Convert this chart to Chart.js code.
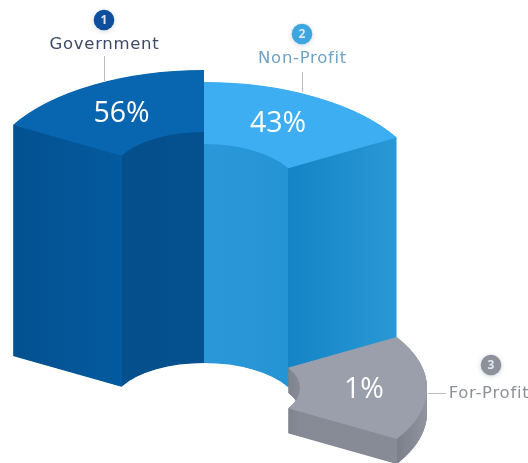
<!DOCTYPE html>
<html>
<head>
<meta charset="utf-8">
<style>html,body{margin:0;padding:0;background:#fff}canvas{display:block}</style>
<script src="https://cdn.jsdelivr.net/npm/chart.js@4"></script>
</head>
<body>
<canvas id="c" width="528" height="463"></canvas>
<script>
const categories = ["Government", "Non-Profit", "For-Profit"];
const shares = [56, 43, 1];
const badgeNumbers = ["1", "2", "3"];

const topColors = ["#0865b0", "#3eaef2", "#9b9fab"];

// The reference is an illustration: its wedges are not proportional to the shares,
// so each arc element is given the illustrated wedge geometry.
const deg = Math.PI / 180;
const wedges = [
  {cx:204, cy:179, k:0.495, outer:220, inner:95, from:-150.3, to:-90, depth:231,
   side:[[13,"#03518f"],[121.5,"#045a9f"],[122,"#054f8c"],[204,"#05508f"]]},
  {cx:204, cy:192, k:0.495, outer:222, inner:97, from:-90, to:-29.7, depth:219,
   side:[[204,"#2a98d9"],[287.5,"#2594d5"],[288,"#1484c6"],[397,"#2a98d5"]]},
  {cx:216, cy:388, k:0.47, outer:211, inner:84, from:-31, to:31, depth:25,
   side:[[288,"#7f838c"],[300,"#868a95"],[396.5,"#878b96"],[397,"#7b7f89"],[427,"#91959f"]]}
];
const notes = [
  {x:104.5, y:45, bx:104, by:20, line:[104.5,56,104.5,81], color:"#3f4a68", badge:"#0d4f9c"},
  {x:302.5, y:59, bx:302, by:34, line:[302.5,72,302.5,92], color:"#6fa2c6", badge:"#3ea6de"},
  {x:489, y:394, bx:491, by:365, line:[428,393.5,446,393.5], color:"#8f9198", badge:"#8e909a"}
];
const valuePos = [[121.5,114],[278,124],[364,390]];

const wedge3d = {
  id:"wedge3d",
  beforeDatasetDraw(chart){
    const ctx = chart.ctx;
    chart.getDatasetMeta(0).data.forEach((arc,i)=>{
      const w = wedges[i];
      arc.x = w.cx; arc.y = w.cy;
      arc.outerRadius = w.outer; arc.innerRadius = w.inner;
      arc.startAngle = w.from*deg; arc.endAngle = w.to*deg;
      arc.circumference = (w.to-w.from)*deg;
      const paint = (dy, fill)=>{
        const el = Object.create(arc);
        el.options = Object.assign({}, arc.options, {backgroundColor:fill, borderWidth:0});
        ctx.save();
        ctx.translate(w.cx, w.cy+dy);
        ctx.scale(1, w.k);
        ctx.translate(-w.cx, -w.cy);
        el.draw(ctx);
        ctx.restore();
      };
      const s = w.side;
      const g = ctx.createLinearGradient(s[0][0],0,s[s.length-1][0],0);
      const span = s[s.length-1][0]-s[0][0];
      s.forEach(p=>g.addColorStop((p[0]-s[0][0])/span,p[1]));
      for(let d=w.depth; d>0; d-=0.5) paint(d,g);
      paint(0, topColors[i]);
    });
    return false;
  },
  afterDatasetsDraw(chart){
    const ctx = chart.ctx;
    ctx.save();
    ctx.textBaseline = "middle"; ctx.textAlign = "center";
    notes.forEach((n,i)=>{
      ctx.strokeStyle = "#b9bcc4"; ctx.lineWidth = 1;
      ctx.beginPath(); ctx.moveTo(n.line[0],n.line[1]); ctx.lineTo(n.line[2],n.line[3]); ctx.stroke();
      ctx.save();
      ctx.shadowColor = "rgba(90,110,140,0.3)"; ctx.shadowBlur = 5; ctx.shadowOffsetY = 1;
      ctx.fillStyle = n.badge;
      ctx.beginPath(); ctx.arc(n.bx,n.by,10.3,0,Math.PI*2); ctx.fill();
      ctx.restore();
      ctx.fillStyle = "#dfe8f2";
      ctx.font = "bold 12px 'Open Sans'";
      ctx.letterSpacing = "0px";
      ctx.fillText(badgeNumbers[i],n.bx,n.by+0.5);
      ctx.fillStyle = n.color;
      ctx.font = "16.5px 'DejaVu Sans'";
      ctx.letterSpacing = "0.7px";
      ctx.fillText(categories[i],n.x,n.y);
    });
    ctx.letterSpacing = "0px";
    ctx.fillStyle = "#ffffff";
    ctx.font = "28.5px 'Open Sans'";
    shares.forEach((v,i)=>ctx.fillText(v+"%",valuePos[i][0],valuePos[i][1]));
    ctx.restore();
  }
};

new Chart(document.getElementById("c"),{
  type:"doughnut",
  data:{labels:categories,datasets:[{data:shares,backgroundColor:topColors,borderWidth:0}]},
  options:{
    responsive:false,animation:false,
    plugins:{legend:{display:false},tooltip:{enabled:false}},
    layout:{padding:0}
  },
  plugins:[wedge3d]
});
</script>
</body>
</html>
